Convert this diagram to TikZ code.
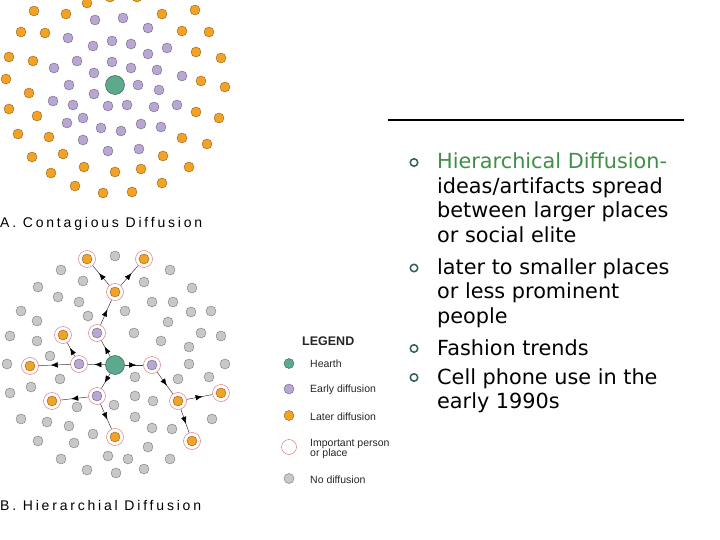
\documentclass[tikz,border=0pt]{standalone}
\usepackage{fontspec}
\setmainfont{DejaVu Sans}
\newfontfamily\capfont[LetterSpace=20]{Liberation Sans}
\newfontfamily\legfont{Liberation Sans}
\usetikzlibrary{arrows.meta}
\usetikzlibrary{decorations.markings}

\definecolor{hearthgreen}{HTML}{5DA98B}
\definecolor{earlypurple}{HTML}{B9A7D3}
\definecolor{laterorange}{HTML}{F2A227}
\definecolor{nogray}{HTML}{C8C8C8}
\definecolor{ringred}{HTML}{E07A7A}
\definecolor{titlegreen}{HTML}{3F8F46}
\definecolor{bulletteal}{HTML}{2F5E5E}

\begin{document}
\begin{tikzpicture}[x=1pt,y=-1pt,
    dot/.style={circle,inner sep=0pt,minimum size=10pt,line width=0.4pt,draw=#1!60!black,fill=#1},
    hearth/.style={dot=hearthgreen,minimum size=19pt,line width=0.5pt},
    vip/.style={circle,inner sep=0pt,minimum size=17pt,line width=0.5pt,draw=ringred,fill=white,
        path picture={\draw[line width=0.4pt,draw=#1!60!black,fill=#1] (path picture bounding box.center) circle (5pt);}},
    flow/.style={draw=black!75,line width=0.5pt,postaction={decorate},
        decoration={markings,mark=at position 0.62 with {\arrow[black]{Latex[length=7pt,width=5.5pt]}}}},
    caption/.style={anchor=base west,inner sep=0pt,font=\capfont\fontsize{14}{14}\selectfont,text=black},
    legtext/.style={anchor=base west,inner sep=0pt,font=\legfont\fontsize{10.5}{11}\selectfont,text=black!85},
    bodytext/.style={anchor=base west,inner sep=0pt,font=\fontsize{20.8}{25}\selectfont},
    bullet/.style={circle,inner sep=0pt,minimum size=7.5pt,draw=bulletteal,line width=1.5pt}]
    \useasboundingbox (0,0) rectangle (720,540);

    % A. contagious diffusion
    \foreach \x/\y [count=\i] in {95/20,123/18,148/28,68/38,93/46,112/41,131/44,167/48,148/54,77/61,
        112/62,54/68,131/68,157/70,94/73,182/76,69/85,138/85,159/90,94/94,53/101,73/105,108/106,
        127/105,154/107,177/105,83/118,67/123,101/128,121/131,141/124,161/127,83/140,108/151,139/149}
        \node[dot=earlypurple] (ae\i) at (\x,\y) {};
    \foreach \x/\y [count=\i] in {87/3,110/-3,137/-3,34/11,66/14,162/14,195/10,21/32,45/33,182/31,
        209/32,9/57,33/61,196/52,221/58,6/79,29/93,201/81,225/87,9/109,37/116,196/112,219/118,
        18/134,49/137,182/138,207/144,32/157,63/154,163/156,189/167,51/173,84/167,115/172,141/169,
        162/183,75/186,103/193,132/192}
        \node[dot=laterorange] (al\i) at (\x,\y) {};
    \node[hearth] (ah) at (115,85) {};
    \node[caption] (acap) at (0,227.5) {A. Contagious Diffusion};

    % B. hierarchical diffusion
    \foreach \x/\y [count=\i] in {115/256,61/270,170/270,83/281,144/282,38/287,192/288,58/297,79/302,
        152/302,173/302,21/311,125/311,191/312,211/311,88/316,37/321,168/322,134/333,201/333,10/336,
        221/336,37/341,161/341,189/347,50/356,7/364,189/364,225/364,60/379,135/377,178/379,209/377,
        31/387,10/393,135/396,153/401,77/407,114/405,135/417,21/419,47/422,212/419,69/426,152/428,
        172/429,93/434,38/441,74/443,148/447,108/456,128/459,170/459,61/459,87/470,116/473,144/469}
        \node[dot=nogray] (bn\i) at (\x,\y) {};
    \node[hearth] (bh) at (115,365) {};
    \node[vip=earlypurple] (pa) at (97,333) {};
    \node[vip=earlypurple] (pb) at (79,364) {};
    \node[vip=earlypurple] (pc) at (152,365) {};
    \node[vip=earlypurple] (pd) at (97,396) {};
    \node[vip=laterorange] (o1) at (115,292) {};
    \node[vip=laterorange] (o2) at (87,259) {};
    \node[vip=laterorange] (o3) at (144,259) {};
    \node[vip=laterorange] (o4) at (63,335) {};
    \node[vip=laterorange] (o5) at (30,366) {};
    \node[vip=laterorange] (o6) at (52,401) {};
    \node[vip=laterorange] (o7) at (115,437) {};
    \node[vip=laterorange] (o8) at (178,401) {};
    \node[vip=laterorange] (o9) at (221,393) {};
    \node[vip=laterorange] (o10) at (192,441) {};
    \foreach \a/\b in {bh/pa,bh/pb,bh/pc,bh/pd,pa/o1,o1/o2,o1/o3,pb/o4,pb/o5,pd/o6,pd/o7,pc/o8,o8/o9,o8/o10}
        \path[flow] (\a) -- (\b);
    \node[caption] (bcap) at (0,510) {B. Hierarchial Diffusion};

    % legend
    \node[anchor=base west,inner sep=0pt,font=\legfont\bfseries\fontsize{12.5}{13}\selectfont,text=black!85] (leg) at (302,345) {LEGEND};
    \node[dot=hearthgreen] (lg1) at (289,363.5) {};
    \node[dot=earlypurple] (lg2) at (289,389) {};
    \node[dot=laterorange] (lg3) at (289,415.5) {};
    \node[circle,inner sep=0pt,minimum size=15pt,draw=ringred,line width=0.5pt] (lg4) at (289,447) {};
    \node[dot=nogray] (lg5) at (289,478.5) {};
    \node[legtext] (lt1) at (310,367.5) {Hearth};
    \node[legtext] (lt2) at (310,392.5) {Early diffusion};
    \node[legtext] (lt3) at (310,420) {Later diffusion};
    \node[legtext] (lt4) at (310,446.5) {Important person};
    \node[legtext] (lt4b) at (310,456) {or place};
    \node[legtext] (lt5) at (310,483) {No diffusion};

    % text on the right
    \draw[line width=1.8pt] (388,120) coordinate (r0) -- (684,120) coordinate (r1);
    \node[bullet] (b1) at (414,162.5) {};
    \node[bullet] (b2) at (414,268) {};
    \node[bullet] (b3) at (414,348.5) {};
    \node[bullet] (b4) at (414,377.5) {};
    \node[bodytext,text=titlegreen] (t1) at (437,169) {Hierarchical Diffusion-};
    \node[bodytext] (t2) at (437,193.5) {ideas/artifacts spread};
    \node[bodytext] (t3) at (437,218) {between larger places};
    \node[bodytext] (t4) at (437,243) {or social elite};
    \node[bodytext] (t5) at (437,274) {later to smaller places};
    \node[bodytext] (t6) at (437,298.5) {or less prominent};
    \node[bodytext] (t7) at (437,323.5) {people};
    \node[bodytext] (t8) at (437,355) {Fashion trends};
    \node[bodytext] (t9) at (437,384) {Cell phone use in the};
    \node[bodytext] (t10) at (437,408.5) {early 1990s};
\end{tikzpicture}
\end{document}
